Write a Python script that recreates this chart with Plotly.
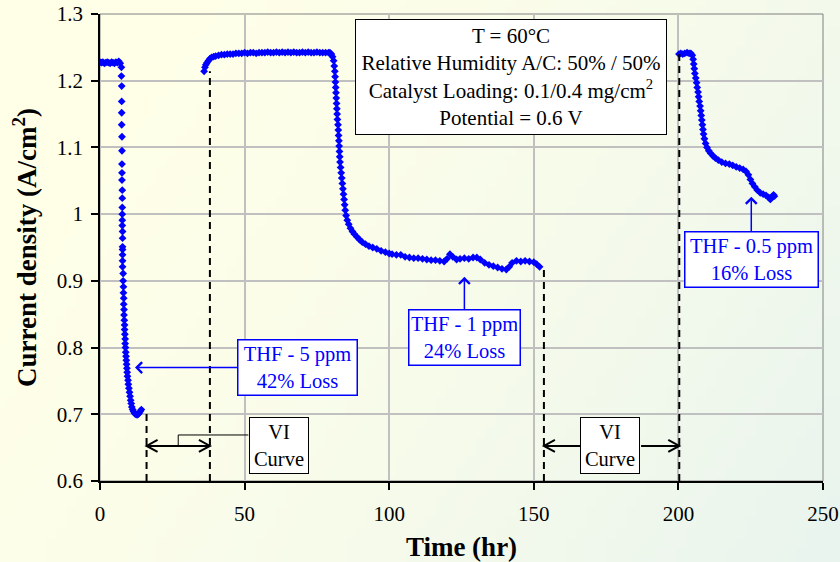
import base64
import struct
import zlib

import plotly.graph_objects as go

# ---------------------------------------------------------------------------
# Data: current density (A/cm^2) vs. time (hr) at 0.6 V, three THF exposures
# ---------------------------------------------------------------------------
t_5ppm = [0.0, 0.5, 1.0, 1.5, 2.0, 2.5, 3.0, 3.5, 4.0, 4.5, 5.0, 5.5, 6.0, 6.5, 7.0,
          7.4, 7.4, 7.5, 7.5, 7.5, 7.5, 7.6, 7.6, 7.6, 7.6, 7.6, 7.7, 7.7, 7.7, 7.7,
          7.7, 7.7, 7.8, 7.8, 7.8, 7.8, 7.8, 7.8, 7.8, 8.0, 8.0, 8.1, 8.1, 8.2, 8.2,
          8.3, 8.3, 8.4, 8.5, 8.5, 8.6, 8.7, 8.7, 8.8, 8.9, 9.0, 9.1, 9.2, 9.3, 9.4,
          9.5, 9.7, 9.8, 10.0, 10.2, 10.4, 10.6, 10.8, 11.0, 11.3, 11.6, 12.0, 12.4,
          12.8, 13.2, 13.6, 14.0, 14.3]
j_5ppm = [1.228, 1.227, 1.228, 1.226, 1.227, 1.228, 1.227, 1.226, 1.228, 1.227, 1.226,
          1.228, 1.227, 1.229, 1.226,
          1.220, 1.207, 1.192, 1.169, 1.152, 1.134, 1.116, 1.095, 1.075, 1.062, 1.051,
          1.036, 1.024, 1.010, 1.000, 0.991, 0.983, 0.974, 0.964, 0.951, 0.947, 0.939,
          0.930, 0.921, 0.911, 0.900, 0.891, 0.882, 0.874, 0.865, 0.857, 0.849, 0.841,
          0.834, 0.827, 0.820, 0.813, 0.806, 0.800, 0.793, 0.787, 0.781, 0.775, 0.769,
          0.763, 0.757, 0.751, 0.745, 0.739, 0.733, 0.727, 0.721, 0.716, 0.711, 0.707,
          0.704, 0.701, 0.700, 0.699, 0.700, 0.702, 0.705, 0.707]

t_1ppm = [36.0, 36.3, 36.6, 37.0, 37.5, 38.0, 38.6, 39.3, 40.0, 41.0, 42.0, 43.0, 44.0,
          45.0, 46.0, 47.0, 48.0, 49.0, 50.0, 51.0, 52.0, 53.0, 54.0, 55.0, 56.0, 57.0,
          58.0, 59.0, 60.0, 61.0, 62.0, 63.0, 64.0, 65.0, 66.0, 67.0, 68.0, 69.0, 70.0,
          71.0, 72.0, 73.0, 74.0, 75.0, 76.0, 77.0, 78.0, 79.0, 79.5, 80.0, 80.4, 80.8,
          81.0, 81.2, 81.3, 81.4, 81.5, 81.6, 81.7, 81.8, 81.9, 82.0, 82.1, 82.3, 82.4,
          82.5, 82.6, 82.7, 82.8, 82.9, 83.0, 83.2, 83.4, 83.6, 83.8, 84.0, 84.2, 84.4,
          84.6, 84.8, 85.1, 85.5, 86.0, 86.6, 87.3, 88.0, 88.8, 89.7, 90.7, 91.8, 93.0,
          94.3, 95.7, 97.2, 98.7, 100.0, 101.0, 102.5, 104.0, 105.5, 107.0, 108.5,
          110.0, 111.5, 113.0, 114.5, 116.0, 117.5, 119.0, 120.0, 121.0, 122.0, 123.3,
          124.5, 126.0, 127.5, 129.0, 130.3, 131.5, 133.0, 134.5, 136.0, 137.5, 139.0,
          140.5, 141.5, 142.5, 144.0, 145.5, 147.0, 148.5, 150.0, 151.0, 152.0]
j_1ppm = [1.214, 1.220, 1.224, 1.227, 1.230, 1.233, 1.235, 1.236, 1.237, 1.238, 1.239,
          1.239, 1.240, 1.240, 1.240, 1.241, 1.241, 1.241, 1.242, 1.241, 1.242, 1.242,
          1.241, 1.242, 1.242, 1.242, 1.243, 1.242, 1.242, 1.243, 1.242, 1.243, 1.242,
          1.243, 1.242, 1.243, 1.242, 1.242, 1.243, 1.242, 1.243, 1.242, 1.242, 1.243,
          1.242, 1.242, 1.242, 1.242, 1.242, 1.240, 1.236, 1.230,
          1.222, 1.214, 1.206, 1.198, 1.190, 1.182, 1.174, 1.166, 1.158, 1.150, 1.142,
          1.134, 1.126, 1.118, 1.110, 1.102, 1.094, 1.086, 1.078, 1.070, 1.062, 1.054,
          1.046, 1.038, 1.030, 1.022, 1.014, 1.006, 0.998, 0.991, 0.985, 0.979, 0.974,
          0.970, 0.966, 0.962, 0.958, 0.955, 0.952, 0.950, 0.948, 0.945, 0.943, 0.941,
          0.940, 0.939, 0.939, 0.936, 0.935, 0.934, 0.934, 0.933, 0.932, 0.931, 0.931,
          0.930, 0.929, 0.933, 0.940, 0.936, 0.932, 0.933, 0.934, 0.933, 0.935, 0.935,
          0.932, 0.927, 0.924, 0.922, 0.920, 0.918, 0.917, 0.921, 0.927, 0.930, 0.929,
          0.930, 0.929, 0.928, 0.925, 0.921]

t_05ppm = [200.2, 200.8, 201.5, 202.2, 203.0, 203.7, 204.3, 204.8, 205.1, 205.3, 205.5,
           205.7, 206.0, 206.3, 206.5, 206.8, 207.0, 207.2, 207.5, 207.7, 207.9, 208.1,
           208.3, 208.5, 208.7, 209.0, 209.4, 209.9, 210.5, 211.2, 212.0, 212.8, 213.8,
           215.0, 216.3, 217.6, 218.8, 220.0, 221.2, 222.4, 223.4, 224.2, 224.9, 225.6,
           226.4, 227.3, 228.3, 229.3, 230.3, 231.2, 231.8, 232.4, 232.9, 233.2]
j_05ppm = [1.240, 1.241, 1.240, 1.241, 1.242, 1.241, 1.241, 1.238, 1.232, 1.225, 1.218,
           1.211, 1.204, 1.197, 1.190, 1.183, 1.176, 1.169, 1.162, 1.155, 1.148, 1.141,
           1.134, 1.127, 1.120, 1.113, 1.106, 1.100, 1.095, 1.091, 1.087, 1.084, 1.081,
           1.078, 1.076, 1.075, 1.073, 1.071, 1.069, 1.067, 1.064, 1.059, 1.052, 1.046,
           1.041, 1.036, 1.032, 1.030, 1.028, 1.025, 1.022, 1.026, 1.029, 1.027]

# VI-curve windows (start, end) in hours
vi_windows = [(16.1, 38.0), (153.5, 200.3)]

x_ticks = [0, 50, 100, 150, 200, 250]
x_ticktext = ["0", "50", "100", "150", "200", "250"]
y_ticks = [0.6, 0.7, 0.8, 0.9, 1.0, 1.1, 1.2, 1.3]
y_ticktext = ["0.6", "0.7", "0.8", "0.9", "1", "1.1", "1.2", "1.3"]

X_RANGE = [0, 250]
Y_RANGE = [0.6, 1.3]

SERIF = "Liberation Serif, Times New Roman, serif"
BLUE = "#0000FF"

W, H = 840, 562
ML, MR, MT, MB = 100, 17, 14, 81
PW, PH = W - ML - MR, H - MT - MB

# data units per screen pixel, used to size arrowheads in pixels
DX = (X_RANGE[1] - X_RANGE[0]) / PW
DY = (Y_RANGE[1] - Y_RANGE[0]) / PH


def gradient_png(w, h, c0, c1):
    """Small diagonal pale-yellow to pale-green gradient as a PNG data URI."""
    raw = bytearray()
    for j in range(h):
        raw.append(0)
        v = j / (h - 1)
        for i in range(w):
            u = i / (w - 1)
            f = min(1.0, max(0.0, 0.8 * u + 0.35 * v - 0.15))
            f = f ** 1.4
            raw.extend(int(round(a + (b - a) * f)) for a, b in zip(c0, c1))

    def chunk(tag, data):
        return (struct.pack(">I", len(data)) + tag + data
                + struct.pack(">I", zlib.crc32(tag + data) & 0xFFFFFFFF))

    png = (b"\x89PNG\r\n\x1a\n"
           + chunk(b"IHDR", struct.pack(">IIBBBBB", w, h, 8, 2, 0, 0, 0))
           + chunk(b"IDAT", zlib.compress(bytes(raw)))
           + chunk(b"IEND", b""))
    return "data:image/png;base64," + base64.b64encode(png).decode()


def arrow_shapes(x_tail, x_tip, y, heads=("tip",), length=11, half=6):
    """Horizontal black arrow with open chevron head(s), as layout shapes."""
    out = [dict(type="line", xref="x", yref="y", x0=x_tail, x1=x_tip, y0=y, y1=y,
                line=dict(color="black", width=2))]
    ends = {"tip": (x_tip, x_tail), "tail": (x_tail, x_tip)}
    for h in heads:
        xe, xo = ends[h]
        sgn = 1 if xo > xe else -1
        xb = xe + sgn * length * DX
        path = f"M {xb},{y + half * DY} L {xe},{y} L {xb},{y - half * DY}"
        out.append(dict(type="path", xref="x", yref="y", path=path,
                        line=dict(color="black", width=2)))
    return out


fig = go.Figure()

fig.add_trace(go.Scatter(
    x=t_5ppm + t_1ppm + t_05ppm,
    y=j_5ppm + j_1ppm + j_05ppm,
    mode="markers",
    marker=dict(symbol="diamond", size=6, color=BLUE, line=dict(width=0)),
    showlegend=False,
))

shapes = []
# dashed markers for the VI-curve windows
vi_tops = [(j_5ppm[-1], j_1ppm[0]), (j_1ppm[-1], j_05ppm[0])]
for (a, b), (ya, yb) in zip(vi_windows, vi_tops):
    for xv, yv in ((a, ya), (b, yb)):
        shapes.append(dict(type="line", xref="x", yref="y", x0=xv, x1=xv, y0=0.6, y1=yv,
                           line=dict(color="black", width=2, dash="7px,5px")))

VI_Y = 0.6525
# first window: double-headed arrow plus elbow connector to its label
shapes += arrow_shapes(vi_windows[0][1], vi_windows[0][0], VI_Y, heads=("tip", "tail"))
mid1 = (vi_windows[0][0] + vi_windows[0][1]) / 2
shapes.append(dict(type="line", xref="x", yref="y", x0=mid1, x1=mid1, y0=VI_Y, y1=0.669,
                   line=dict(color="black", width=1)))
shapes.append(dict(type="line", xref="x", yref="y", x0=mid1, x1=51.3, y0=0.669, y1=0.669,
                   line=dict(color="black", width=1)))
# second window: arrows from the label out to each edge
shapes += arrow_shapes(166.0, vi_windows[1][0], VI_Y)
shapes += arrow_shapes(187.1, vi_windows[1][1], VI_Y)

# plot-area frame
shapes.append(dict(type="rect", xref="paper", yref="paper", x0=0, x1=1, y0=0, y1=1,
                   line=dict(color="#808080", width=1), layer="below"))

annotations = []

# condition box
annotations.append(dict(
    x=142.1, y=1.2055, xref="x", yref="y", showarrow=False,
    text="T = 60°C<br>Relative Humidity A/C: 50% / 50%<br>"
         "Catalyst Loading: 0.1/0.4 mg/cm<sup>2</sup><br>Potential = 0.6 V",
    font=dict(family=SERIF, size=21, color="black"),
    bgcolor="white", bordercolor="black", borderwidth=1, borderpad=2,
    width=306, height=110, align="center",
))

# THF exposure labels with arrows
thf_labels = [
    dict(text="THF - 5 ppm<br>42% Loss", x=12.1, y=0.770, ax=68.3, ay=0.770, w=114),
    dict(text="THF - 1 ppm<br>24% Loss", x=126.0, y=0.906, ax=126.0, ay=0.815, w=106),
    dict(text="THF - 0.5 ppm<br>16% Loss", x=225.2, y=1.026, ax=225.2, ay=0.932, w=128),
]
for lab in thf_labels:
    annotations.append(dict(
        x=lab["x"], y=lab["y"], ax=lab["ax"], ay=lab["ay"],
        xref="x", yref="y", axref="x", ayref="y",
        text=lab["text"], showarrow=True,
        arrowhead=4, arrowsize=1.4, arrowwidth=1.5, arrowcolor=BLUE, standoff=0,
        font=dict(family=SERIF, size=20.5, color=BLUE),
        bgcolor="white", bordercolor=BLUE, borderwidth=1.5, borderpad=2,
        width=lab["w"], height=50, align="center",
    ))

# VI-curve labels
vi_label_x = [61.9, 176.5]
for xc in vi_label_x:
    annotations.append(dict(
        x=xc, y=0.6532, xref="x", yref="y", showarrow=False,
        text="VI<br>Curve", font=dict(family=SERIF, size=20.5, color="black"),
        bgcolor="white", bordercolor="black", borderwidth=1, borderpad=2,
        width=54, height=51, align="center",
    ))

axis_common = dict(
    showgrid=True, gridcolor="#C0C0C0", gridwidth=2,
    showline=True, linecolor="black", linewidth=1.5,
    ticks="outside", ticklen=7, tickwidth=1.5, tickcolor="black",
    tickfont=dict(family=SERIF, size=21, color="black"),
    zeroline=False, automargin=False,
)

fig.update_layout(
    width=W, height=H,
    margin=dict(l=ML, r=MR, t=MT, b=MB),
    paper_bgcolor="rgba(0,0,0,0)",
    plot_bgcolor="rgba(0,0,0,0)",
    xaxis=dict(range=X_RANGE, tickvals=x_ticks, ticktext=x_ticktext,
               title=dict(text="<b>Time (hr)</b>", standoff=12,
                          font=dict(family=SERIF, size=27, color="black")),
               ticklabelstandoff=6, **axis_common),
    yaxis=dict(range=Y_RANGE, tickvals=y_ticks, ticktext=y_ticktext,
               title=dict(text="<b>Current density (A/cm<sup>2</sup>)</b>", standoff=12,
                          font=dict(family=SERIF, size=27, color="black")),
               ticklabelstandoff=4, **axis_common),
    shapes=shapes,
    annotations=annotations,
    images=[dict(
        source=gradient_png(84, 56, (255, 255, 232), (233, 244, 238)),
        xref="paper", yref="paper",
        x=-ML / PW, y=1 + MT / PH, sizex=W / PW, sizey=H / PH,
        xanchor="left", yanchor="top", sizing="stretch", layer="below",
    )],
)

fig.write_html("out.html")
